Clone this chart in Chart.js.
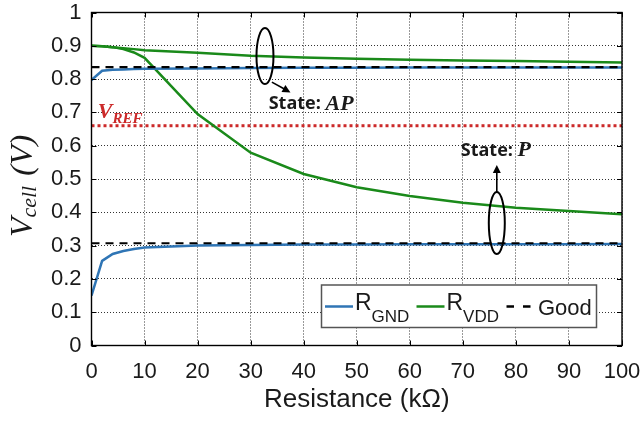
<!DOCTYPE html>
<html><head><meta charset="utf-8">
<script src="https://cdn.jsdelivr.net/npm/chart.js@4/dist/chart.umd.min.js"></script>
<style>html,body{margin:0;padding:0;background:#fff}canvas{display:block}</style>
</head><body>
<canvas id="c" width="644" height="422"></canvas>
<script>
// ---- data ----
const resistance = [0, 2, 4, 6, 8, 10, 20, 30, 40, 50, 60, 70, 80, 90, 100];
const rgndAP = [0.797, 0.825, 0.828, 0.829, 0.830, 0.831, 0.832, 0.833, 0.834, 0.834, 0.835, 0.835, 0.835, 0.835, 0.835];
const rgndP  = [0.150, 0.254, 0.275, 0.284, 0.290, 0.294, 0.300, 0.302, 0.303, 0.303, 0.304, 0.304, 0.304, 0.304, 0.305];
const rvddAP = [0.900, 0.899, 0.896, 0.893, 0.890, 0.887, 0.879, 0.870, 0.865, 0.861, 0.858, 0.856, 0.854, 0.852, 0.850];
const rvddP  = [0.900, 0.899, 0.896, 0.890, 0.880, 0.864, 0.695, 0.579, 0.515, 0.475, 0.449, 0.429, 0.414, 0.404, 0.394];
const refX   = [0, 100];
const goodAP = [0.836, 0.836];
const goodP  = [0.307, 0.307];
const vref   = [0.66, 0.66];
const xTickLabels = ['0','10','20','30','40','50','60','70','80','90','100'];
const yTickLabels = ['0','0.1','0.2','0.3','0.4','0.5','0.6','0.7','0.8','0.9','1'];

// ---- styles ----
const BLUE = '#2f75b5', GREEN = '#1a8a1a', RED = '#cc2a2a', TXT = '#1a1a1a';
const SANS = '"Liberation Sans", Arial, sans-serif';
const SERIF = '"Liberation Serif", "DejaVu Serif", serif';

const pts = (xs, ys) => xs.map((x, i) => ({x, y: ys[i]}));

function rich(ctx, parts, x, y) {
  let cx = x;
  for (const p of parts) {
    ctx.font = p.font;
    ctx.fillStyle = p.color || TXT;
    ctx.fillText(p.text, cx, y + (p.dy || 0));
    cx += ctx.measureText(p.text).width + (p.gap || 0);
  }
  return cx - x;
}
function richWidth(ctx, parts) {
  let w = 0;
  for (const p of parts) { ctx.font = p.font; w += ctx.measureText(p.text).width + (p.gap || 0); }
  return w;
}

const overlay = {
  id: 'overlay',
  afterDatasetsDraw(chart) {
    const ctx = chart.ctx, xs = chart.scales.x, ys = chart.scales.y;
    ctx.save();
    // VREF label
    ctx.textBaseline = 'alphabetic';
    rich(ctx, [
      {text: 'V', font: `italic bold 22px ${SERIF}`, color: RED},
      {text: 'REF', font: `italic bold 15px ${SERIF}`, color: RED, dy: 5}
    ], xs.getPixelForValue(1.2), ys.getPixelForValue(0.683));

    // ellipses + arrows
    ctx.strokeStyle = '#000'; ctx.fillStyle = '#000'; ctx.lineWidth = 2;
    const ell = (cx, cy, rx, ry) => { ctx.lineWidth = 2; ctx.beginPath(); ctx.ellipse(xs.getPixelForValue(cx), ys.getPixelForValue(cy), rx, ry, 0, 0, Math.PI * 2); ctx.stroke(); };
    const arrow = (x1, y1, x2, y2) => {
      const p1x = xs.getPixelForValue(x1), p1y = ys.getPixelForValue(y1);
      const p2x = xs.getPixelForValue(x2), p2y = ys.getPixelForValue(y2);
      const ang = Math.atan2(p2y - p1y, p2x - p1x), L = 8, W = 4;
      ctx.lineWidth = 1.6;
      ctx.beginPath(); ctx.moveTo(p1x, p1y); ctx.lineTo(p2x - Math.cos(ang) * L * 0.8, p2y - Math.sin(ang) * L * 0.8); ctx.stroke();
      ctx.beginPath();
      ctx.moveTo(p2x, p2y);
      ctx.lineTo(p2x - Math.cos(ang) * L - Math.sin(ang) * W, p2y - Math.sin(ang) * L + Math.cos(ang) * W);
      ctx.lineTo(p2x - Math.cos(ang) * L + Math.sin(ang) * W, p2y - Math.sin(ang) * L - Math.cos(ang) * W);
      ctx.closePath(); ctx.fill();
    };
    ell(32.7, 0.869, 8.5, 28);
    arrow(34.0, 0.791, 37.5, 0.760);
    ell(76.4, 0.368, 8, 31);
    arrow(76.4, 0.461, 76.4, 0.542);

    ctx.textBaseline = 'middle';
    rich(ctx, [
      {text: 'State: ', font: `bold 18px "Open Sans", ${SANS}`},
      {text: 'AP', font: `italic bold 22px ${SERIF}`}
    ], xs.getPixelForValue(33.4), ys.getPixelForValue(0.725));
    rich(ctx, [
      {text: 'State: ', font: `bold 18px "Open Sans", ${SANS}`},
      {text: 'P', font: `italic bold 22px ${SERIF}`}
    ], xs.getPixelForValue(69.6), ys.getPixelForValue(0.585));
    ctx.restore();
  },
  afterDraw(chart) {
    const ctx = chart.ctx, a = chart.chartArea, xs = chart.scales.x, ys = chart.scales.y;
    ctx.save();
    // inward tick marks
    ctx.strokeStyle = '#000'; ctx.lineWidth = 1;
    ctx.beginPath();
    xs.ticks.forEach(t => { const px = Math.round(xs.getPixelForValue(t.value)) + 0.5; ctx.moveTo(px, a.bottom); ctx.lineTo(px, a.bottom - 5); ctx.moveTo(px, a.top); ctx.lineTo(px, a.top + 5); });
    ys.ticks.forEach(t => { const py = Math.round(ys.getPixelForValue(t.value)) + 0.5; ctx.moveTo(a.left, py); ctx.lineTo(a.left + 5, py); ctx.moveTo(a.right, py); ctx.lineTo(a.right - 5, py); });
    ctx.stroke();
    // box
    ctx.lineWidth = 1.4;
    ctx.strokeRect(a.left, a.top, a.right - a.left, a.bottom - a.top);

    // legend
    const lx = a.left + 230, ly = a.top + 272.5, lw = 275, lh = 42.5;
    ctx.fillStyle = '#fff';
    ctx.fillRect(lx, ly, lw, lh);
    ctx.strokeStyle = '#555'; ctx.lineWidth = 1.5;
    ctx.strokeRect(lx, ly, lw, lh);
    const my = ly + 21.5;
    ctx.lineWidth = 2.5;
    ctx.strokeStyle = BLUE; ctx.beginPath(); ctx.moveTo(lx + 3.5, my); ctx.lineTo(lx + 31.5, my); ctx.stroke();
    ctx.strokeStyle = GREEN; ctx.beginPath(); ctx.moveTo(lx + 95, my); ctx.lineTo(lx + 123, my); ctx.stroke();
    ctx.strokeStyle = '#000'; ctx.beginPath();
    ctx.moveTo(lx + 185, my); ctx.lineTo(lx + 192.5, my);
    ctx.moveTo(lx + 201.5, my); ctx.lineTo(lx + 209, my); ctx.stroke();
    ctx.textBaseline = 'alphabetic';
    rich(ctx, [{text: 'R', font: `23px ${SANS}`}, {text: 'GND', font: `17px ${SANS}`, dy: 12}], lx + 33.5, ly + 25);
    rich(ctx, [{text: 'R', font: `23px ${SANS}`}, {text: 'VDD', font: `17px ${SANS}`, dy: 12}], lx + 125, ly + 25);
    rich(ctx, [{text: 'Good', font: `22px ${SANS}`}], lx + 216.5, ly + 30);

    // axis titles
    ctx.textBaseline = 'alphabetic';
    const xt = [{text: 'Resistance (kΩ)', font: `26px ${SANS}`}];
    const xw = richWidth(ctx, xt);
    rich(ctx, xt, (a.left + a.right) / 2 - xw / 2, 407);

    ctx.translate(32, 186);
    ctx.rotate(-Math.PI / 2);
    const yt = [
      {text: 'V', font: `italic 32px ${SERIF}`},
      {text: 'cell', font: `italic 22px ${SERIF}`, dy: 4, gap: 2},
      {text: ' (V)', font: `italic 32px ${SERIF}`}
    ];
    const yw = richWidth(ctx, yt);
    rich(ctx, yt, -yw / 2, 0);
    ctx.restore();
  }
};

const tickFont = {family: SANS, size: 22};
const noPad = s => { s.paddingLeft = 0; s.paddingRight = 0; s.paddingTop = 0; s.paddingBottom = 0; };

new Chart(document.getElementById('c'), {
  type: 'line',
  data: {
    datasets: [
      {label: 'Good', data: pts(refX, goodAP), borderColor: '#000', borderWidth: 2.2, borderDash: [8, 6], order: 1},
      {label: 'Good P', data: pts(refX, goodP), borderColor: '#000', borderWidth: 2.2, borderDash: [8, 6], order: 1},
      {label: 'RGND', data: pts(resistance, rgndAP), borderColor: BLUE, borderWidth: 2.5, order: 2},
      {label: 'RGND P', data: pts(resistance, rgndP), borderColor: BLUE, borderWidth: 2.5, order: 2},
      {label: 'RVDD', data: pts(resistance, rvddAP), borderColor: GREEN, borderWidth: 2.5, order: 3},
      {label: 'RVDD P', data: pts(resistance, rvddP), borderColor: GREEN, borderWidth: 2.5, order: 3},
      {label: 'VREF', data: pts(refX, vref), borderColor: RED, borderWidth: 3, borderDash: [3, 3], order: 4}
    ]
  },
  options: {
    responsive: false,
    animation: false,
    devicePixelRatio: 1,
    layout: {padding: {left: 0, top: 12.5, right: 22, bottom: 0}},
    elements: {point: {radius: 0}, line: {tension: 0, borderCapStyle: 'butt'}},
    plugins: {legend: {display: false}, tooltip: {enabled: false}},
    scales: {
      x: {
        type: 'linear', min: 0, max: 100,
        ticks: {stepSize: 10, font: tickFont, color: TXT, padding: 13, maxRotation: 0,
                callback: (v, i) => xTickLabels[i]},
        grid: {color: 'rgba(0,0,0,0.8)', lineWidth: 1, drawTicks: false},
        border: {display: false, dash: [1, 2]},
        afterFit: s => { s.height = 76.5; noPad(s); }
      },
      y: {
        min: 0, max: 1,
        ticks: {stepSize: 0.1, font: tickFont, color: TXT, padding: 10,
                callback: (v, i) => yTickLabels[i]},
        grid: {color: 'rgba(0,0,0,0.8)', lineWidth: 1, drawTicks: false},
        border: {display: false, dash: [1, 2]},
        afterFit: s => { s.width = 91.5; noPad(s); }
      }
    }
  },
  plugins: [overlay]
});
</script>
</body></html>
